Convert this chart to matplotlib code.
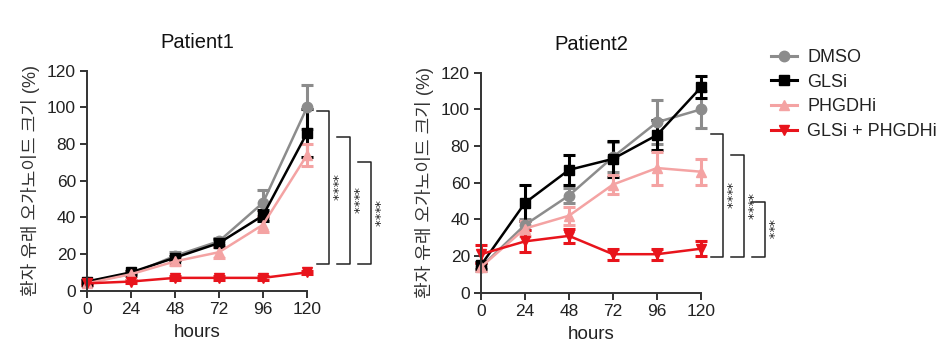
import matplotlib
matplotlib.use("Agg")
import matplotlib.pyplot as plt
from matplotlib.lines import Line2D

plt.rcParams['font.family'] = ['Liberation Sans', 'Noto Sans CJK KR', 'DejaVu Sans']

hours = [0, 24, 48, 72, 96, 120]
series_names = ["DMSO", "GLSi", "PHGDHi", "GLSi + PHGDHi"]
colors = ["#8c8c8c", "#000000", "#f4a3a3", "#e8141c"]
markers = ["o", "s", "^", "v"]

# Patient1
p1_dmso = [5, 9, 19, 27, 48, 100]
p1_dmso_err = [1, 1, 2, 2, 7, 12]
p1_gls = [5, 10, 18, 26, 41, 86]
p1_gls_err = [1, 1, 1, 2, 3, 13]
p1_phg = [4, 9, 16, 21, 36, 74]
p1_phg_err = [1, 1, 2, 3, 4, 6]
p1_combo = [4, 5, 7, 7, 7, 10]
p1_combo_err = [1, 1, 1, 1, 1, 1]

# Patient2
p2_dmso = [14, 37, 53, 74, 93, 100]
p2_dmso_err = [2, 3, 4, 8, 12, 10]
p2_gls = [15, 49, 67, 73, 86, 112]
p2_gls_err = [2, 10, 8, 10, 8, 6]
p2_phg = [14, 35, 42, 59, 68, 66]
p2_phg_err = [2, 4, 5, 5, 9, 7]
p2_combo = [21, 28, 31, 21, 21, 24]
p2_combo_err = [5, 6, 4, 3, 3, 4]

titles = ["Patient1", "Patient2"]
ylabel = "환자 유래 오가노이드 크기 (%)"
xlabel = "hours"
yticks = [0, 20, 40, 60, 80, 100, 120]

# significance brackets: (top, bottom, label)
p1_sig = [(98, 14.5, "****"), (84, 14.5, "****"), (70, 14.5, "****")]
p2_sig = [(86.6, 19.5, "****"), (75, 19.5, "****"), (49.5, 19.5, "***")]

fig = plt.figure(figsize=(9.48, 3.62), dpi=100)
ax1 = fig.add_axes([87/948, (362-290.7)/362, 220/948, 220/362])
ax2 = fig.add_axes([481/948, (362-292.7)/362, 220/948, 220/362])

data = [
    [(p1_dmso, p1_dmso_err), (p1_gls, p1_gls_err), (p1_phg, p1_phg_err), (p1_combo, p1_combo_err)],
    [(p2_dmso, p2_dmso_err), (p2_gls, p2_gls_err), (p2_phg, p2_phg_err), (p2_combo, p2_combo_err)],
]
sigs = [p1_sig, p2_sig]

for ax, dset, title, sig in zip([ax1, ax2], data, titles, sigs):
    for (vals, errs), c, m in zip(dset, colors, markers):
        eb = ax.errorbar(hours, vals, yerr=errs, color=c, marker=m, markersize=7.5,
                         linewidth=1.8, elinewidth=2.2, capsize=4, capthick=2.2, clip_on=False)
        for art in eb.lines[1]:
            art.set_clip_on(False)
        for art in eb.lines[2]:
            art.set_clip_on(False)
    ax.set_xlim(0, 120)
    ax.set_ylim(0, 120)
    ax.set_xticks(hours)
    ax.set_yticks(yticks)
    for s in ["top", "right"]:
        ax.spines[s].set_visible(False)
    for s in ["left", "bottom"]:
        ax.spines[s].set_linewidth(1.4)
        ax.spines[s].set_color("#333333")
    ax.tick_params(axis="both", labelsize=12.5, width=1.4, length=5, color="#333333",
                   labelcolor="#222222", pad=3)
    ax.set_title(title, fontsize=14.5, pad=16, color="#111111")
    ax.set_xlabel(xlabel, fontsize=13.5, labelpad=5, color="#222222")
    ax.set_ylabel(ylabel, fontsize=13, labelpad=5, color="#333333")
    # brackets
    xs = [(125.5, 132.0), (136.4, 143.4), (147.8, 154.8)]
    for (top, bot, lab), (xl, xr) in zip(sig, xs):
        ax.plot([xl, xr, xr, xl], [top, top, bot, bot], color="#222222", lw=1.1, clip_on=False)
        ax.text(xr + 1.6, (top + bot) / 2, lab, rotation=270, ha="center", va="center",
                fontsize=9.5, family="DejaVu Sans", color="#222222", clip_on=False)

handles = [Line2D([0], [0], color=c, marker=m, markersize=7.5, linewidth=2.2)
           for c, m in zip(colors, markers)]
fig.legend(handles, series_names, loc="upper left", bbox_to_anchor=(764/948, 1 - 42/362),
           frameon=False, fontsize=13, handlelength=1.4, handletextpad=0.6, labelspacing=0.42,
           labelcolor="#222222", borderaxespad=0)

fig.savefig("out.png", dpi=100)
